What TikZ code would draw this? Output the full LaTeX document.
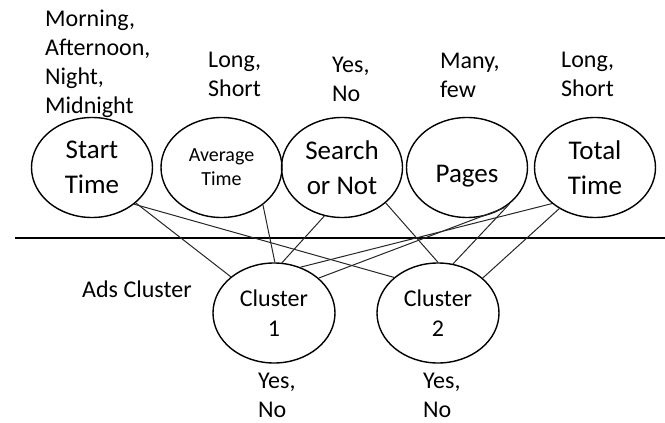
\documentclass[tikz,border=0pt]{standalone}
\usepackage{fontspec}
\setmainfont{Carlito}
\usetikzlibrary{shapes.geometric}

\begin{document}
\begin{tikzpicture}[x=1pt, y=-1pt,
                    attr/.style={draw, ellipse, line width=1.4pt, minimum width=121pt,
                                 minimum height=100pt, inner sep=0pt, align=center,
                                 font=\fontsize{27}{35}\selectfont},
                    vals/.style={anchor=north west, inner sep=0pt, align=left,
                                 font=\fontsize{24}{29}\selectfont},
                    link/.style={line width=1pt, black!85}]
  \useasboundingbox (0,0) rectangle (665,423);
  \node[attr] (start) at (92,167.5) {Start\\Time};
  \node[attr, font=\fontsize{20}{24}\selectfont] (avg) at (221.5,167.5) {Average\\Time};
  \node[attr] (search) at (342,167.5) {Search\\or Not};
  \node[attr, text height=29pt, text depth=0pt] (pages) at (467,167.5) {Pages};
  \node[attr] (total) at (595,167.5) {Total\\Time};
  \node[attr, minimum width=122pt, font=\fontsize{24}{30}\selectfont] (c1) at (274,313) {Cluster\\1};
  \node[attr, minimum width=122pt, font=\fontsize{24}{30}\selectfont] (c2) at (438,313) {Cluster\\2};
  \node[vals] (startvals) at (45,10) {Morning,\\Afternoon,\\Night,\\Midnight};
  \node[vals] (avgvals) at (208,52) {Long,\\Short};
  \node[vals] (searchvals) at (332,57) {Yes,\\No};
  \node[vals] (pagesvals) at (440,53) {Many,\\few};
  \node[vals] (totalvals) at (561,52) {Long,\\Short};
  \node[vals] (ads) at (82,281) {Ads Cluster};
  \node[vals] (c1vals) at (258,373) {Yes,\\No};
  \node[vals] (c2vals) at (423,373) {Yes,\\No};
  \draw[line width=2pt] (15,238) -- (665,238);
  \draw[link] (start.-39) -- (c1.140);
  \draw[link] (start.-41) -- (c2.141);
  \draw[link] (avg.-42) -- (c1.89);
  \draw[link] (search.-110) -- (c1.81);
  \draw[link] (search.-39) -- (c2.90);
  \draw[link] (pages.-48) -- (c1.38);
  \draw[link] (pages.-41) -- (c2.73);
  \draw[link] (total.-140) -- (c1.60);
  \draw[link] (total.-131) -- (c2.38);
\end{tikzpicture}
\end{document}
